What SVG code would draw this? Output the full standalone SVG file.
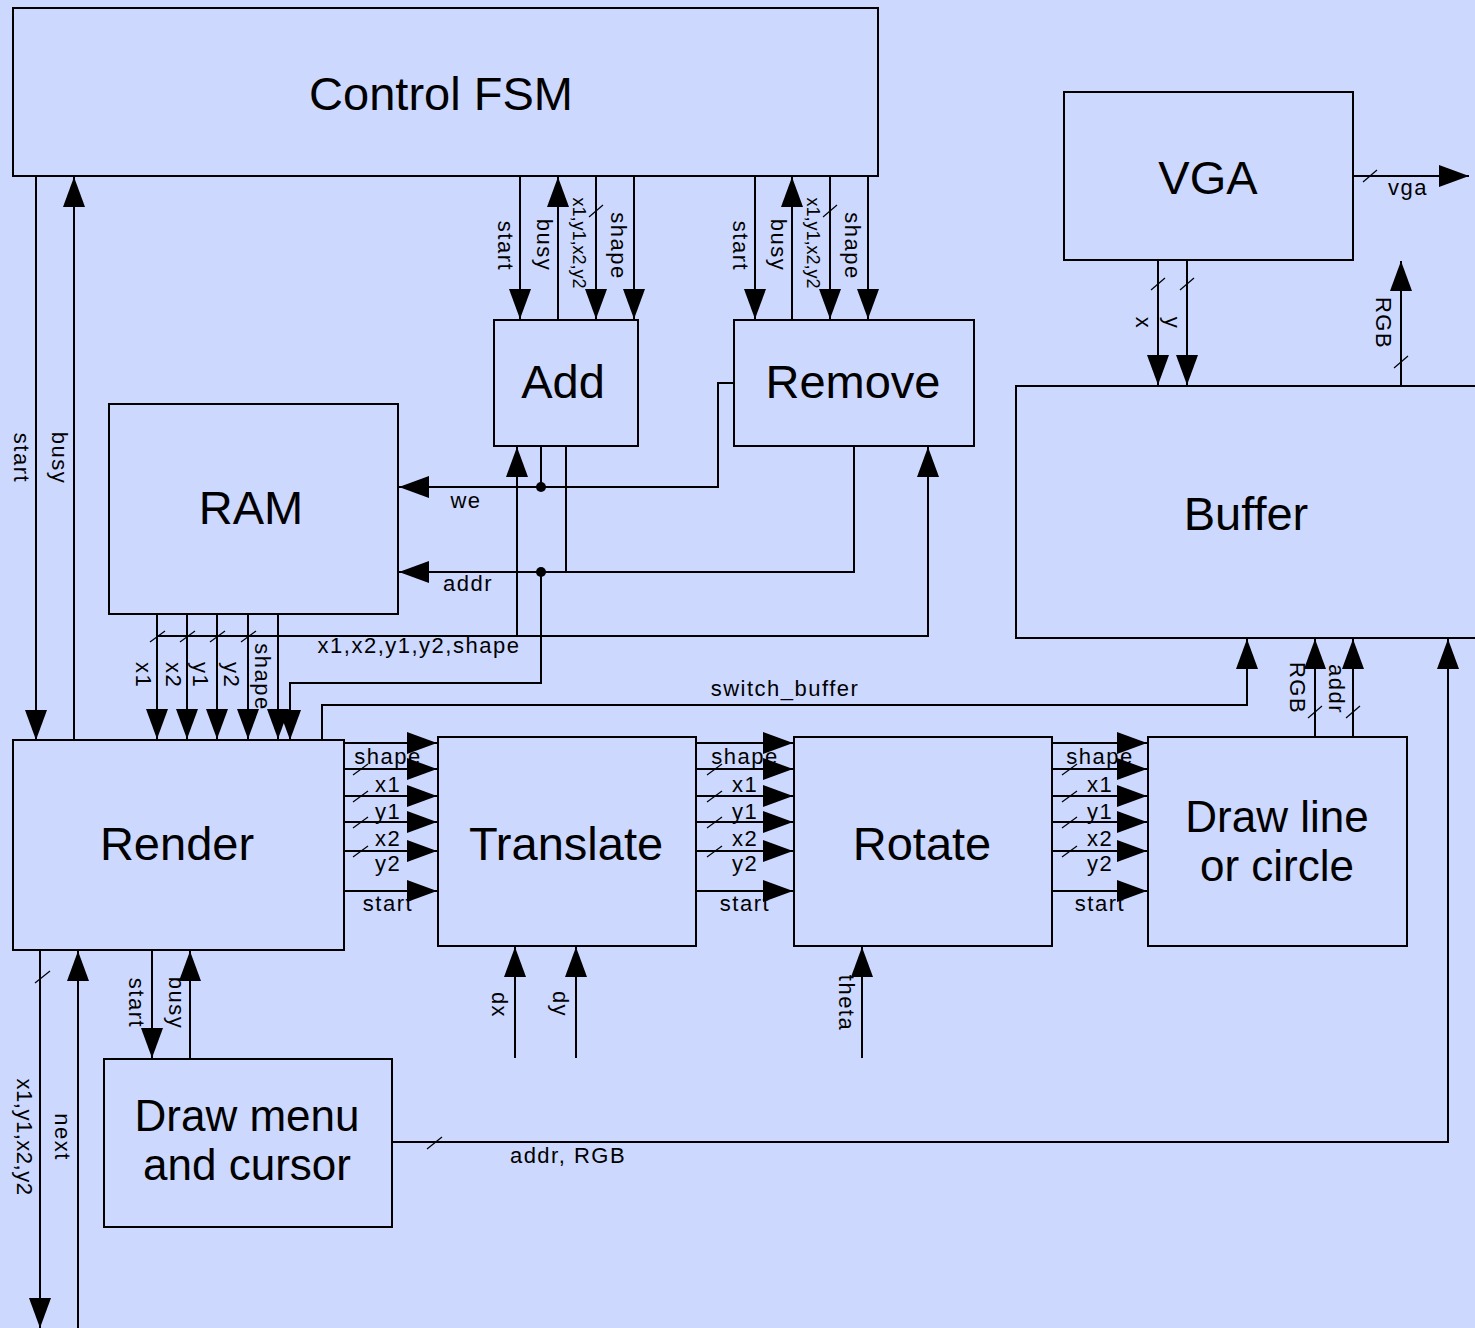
<svg xmlns="http://www.w3.org/2000/svg" width="1475" height="1328" viewBox="0 0 1475 1328">
<style>
.box{fill:#ccd8fe;stroke:#000;stroke-width:2}
.big{font-family:"Liberation Sans",Arial,sans-serif;font-size:47px;fill:#000;text-anchor:middle}
.big2{font-family:"Liberation Sans",Arial,sans-serif;font-size:44px;fill:#000;text-anchor:middle}
.lbl{font-family:"Liberation Sans",Arial,sans-serif;font-size:22px;letter-spacing:1.5px;fill:#000;text-anchor:middle}
.w{fill:none;stroke:#000;stroke-width:2}
.a{marker-end:url(#arr)}
.sl{stroke:#000;stroke-width:1.2}
</style>
<defs>
<marker id="arr" markerUnits="userSpaceOnUse" viewBox="0 0 30 22" markerWidth="30" markerHeight="22" refX="30" refY="11" orient="auto">
<path d="M0,0 L30,11 L0,22 z" fill="#000"/>
</marker>
</defs>
<rect x="0" y="0" width="1475" height="1328" fill="#ccd8fe"/>

<g id="connectors">
<path class="w a" d="M36,176 V740"/>
<path class="w a" d="M74,740 V177"/>
<path class="w a" d="M520,176 V319"/>
<path class="w a" d="M558,320 V177"/>
<path class="w a" d="M596,176 V319"/>
<path class="w a" d="M634,176 V319"/>
<path class="w a" d="M755,176 V319"/>
<path class="w a" d="M792,320 V177"/>
<path class="w a" d="M830,176 V319"/>
<path class="w a" d="M868,176 V319"/>
<path class="w a" d="M1158,260 V385"/>
<path class="w a" d="M1187,260 V385"/>
<path class="w a" d="M1401,386 V261"/>
<path class="w a" d="M1353,176 H1469"/>
<path class="w a" d="M734,383 H718 V487 H399"/>
<path class="w" d="M541,446 V487"/>
<path class="w a" d="M854,446 V572 H399"/>
<path class="w" d="M566,446 V572"/>
<path class="w a" d="M541,572 V683 H290 V740"/>
<circle cx="541" cy="487" r="5" fill="#000"/>
<circle cx="541" cy="572" r="5" fill="#000"/>
<path class="w a" d="M157,636 H928 V447"/>
<path class="w a" d="M517,636 V447"/>
<path class="w a" d="M157,614 V739"/>
<path class="w a" d="M187,614 V739"/>
<path class="w a" d="M217,614 V739"/>
<path class="w a" d="M248,614 V739"/>
<path class="w a" d="M278,614 V739"/>
<path class="w a" d="M322,740 V705 H1247 V639"/>
<path class="w a" d="M344,743 H437"/>
<path class="w a" d="M344,769 H437"/>
<path class="w a" d="M344,796 H437"/>
<path class="w a" d="M344,822 H437"/>
<path class="w a" d="M344,851 H437"/>
<path class="w a" d="M344,891 H437"/>
<path class="w a" d="M696,743 H793"/>
<path class="w a" d="M696,769 H793"/>
<path class="w a" d="M696,796 H793"/>
<path class="w a" d="M696,822 H793"/>
<path class="w a" d="M696,851 H793"/>
<path class="w a" d="M696,891 H793"/>
<path class="w a" d="M1052,743 H1147"/>
<path class="w a" d="M1052,769 H1147"/>
<path class="w a" d="M1052,796 H1147"/>
<path class="w a" d="M1052,822 H1147"/>
<path class="w a" d="M1052,851 H1147"/>
<path class="w a" d="M1052,891 H1147"/>
<path class="w a" d="M1315,737 V639"/>
<path class="w a" d="M1353,737 V639"/>
<path class="w a" d="M392,1142 H1448 V639"/>
<path class="w a" d="M40,950 V1328"/>
<path class="w a" d="M78,1328 V951"/>
<path class="w a" d="M152,950 V1058"/>
<path class="w a" d="M190,1059 V951"/>
<path class="w a" d="M515,1058 V947"/>
<path class="w a" d="M576,1058 V947"/>
<path class="w a" d="M862,1058 V947"/>

<g class="sl">
<line x1="589" y1="217" x2="603" y2="205"/>
<line x1="823" y1="217" x2="837" y2="205"/>
<line x1="150" y1="642" x2="165" y2="631"/>
<line x1="180" y1="642" x2="195" y2="631"/>
<line x1="210" y1="642" x2="225" y2="631"/>
<line x1="241" y1="642" x2="256" y2="631"/>
<line x1="1151" y1="290" x2="1165" y2="278"/>
<line x1="1180" y1="290" x2="1194" y2="278"/>
<line x1="1394" y1="368" x2="1408" y2="356"/>
<line x1="1363" y1="182" x2="1377" y2="170"/>
<line x1="1308" y1="718" x2="1322" y2="706"/>
<line x1="1346" y1="718" x2="1360" y2="706"/>
<line x1="427" y1="1149" x2="442" y2="1137"/>
<line x1="35" y1="983" x2="50" y2="971"/>
<line x1="353" y1="775" x2="368" y2="764"/>
<line x1="353" y1="802" x2="368" y2="791"/>
<line x1="353" y1="828" x2="368" y2="817"/>
<line x1="353" y1="857" x2="368" y2="846"/>
<line x1="707" y1="775" x2="722" y2="764"/>
<line x1="707" y1="802" x2="722" y2="791"/>
<line x1="707" y1="828" x2="722" y2="817"/>
<line x1="707" y1="857" x2="722" y2="846"/>
<line x1="1062" y1="775" x2="1077" y2="764"/>
<line x1="1062" y1="802" x2="1077" y2="791"/>
<line x1="1062" y1="828" x2="1077" y2="817"/>
<line x1="1062" y1="857" x2="1077" y2="846"/>
</g>

<g class="lbl">
<text transform="translate(14,458) rotate(90)">start</text>
<text transform="translate(52,458) rotate(90)">busy</text>
<text transform="translate(498,246) rotate(90)">start</text>
<text transform="translate(537,245) rotate(90)">busy</text>
<text transform="translate(573,243) rotate(90)" style="font-size:18px;letter-spacing:0">x1,y1,x2,y2</text>
<text transform="translate(611,246) rotate(90)">shape</text>
<text transform="translate(733,246) rotate(90)">start</text>
<text transform="translate(771,245) rotate(90)">busy</text>
<text transform="translate(807,243) rotate(90)" style="font-size:18px;letter-spacing:0">x1,y1,x2,y2</text>
<text transform="translate(845,246) rotate(90)">shape</text>
<text transform="translate(1136,323) rotate(90)">x</text>
<text transform="translate(1165,323) rotate(90)">y</text>
<text transform="translate(1376,323) rotate(90)">RGB</text>
<text x="1408" y="195">vga</text>
<text x="466" y="508">we</text>
<text x="468" y="591">addr</text>
<text x="419" y="653">x1,x2,y1,y2,shape</text>
<text transform="translate(136,675) rotate(90)">x1</text>
<text transform="translate(166,675) rotate(90)">x2</text>
<text transform="translate(193,675) rotate(90)">y1</text>
<text transform="translate(224,675) rotate(90)">y2</text>
<text transform="translate(255,677) rotate(90)">shape</text>
<text x="785" y="696">switch_buffer</text>
<text x="388" y="764">shape</text>
<text x="388" y="792">x1</text>
<text x="388" y="819">y1</text>
<text x="388" y="846">x2</text>
<text x="388" y="871">y2</text>
<text x="388" y="911">start</text>
<text x="745" y="764">shape</text>
<text x="745" y="792">x1</text>
<text x="745" y="819">y1</text>
<text x="745" y="846">x2</text>
<text x="745" y="871">y2</text>
<text x="745" y="911">start</text>
<text x="1100" y="764">shape</text>
<text x="1100" y="792">x1</text>
<text x="1100" y="819">y1</text>
<text x="1100" y="846">x2</text>
<text x="1100" y="871">y2</text>
<text x="1100" y="911">start</text>
<text transform="translate(1290,688) rotate(90)">RGB</text>
<text transform="translate(1329,689) rotate(90)">addr</text>
<text transform="translate(129,1003) rotate(90)">start</text>
<text transform="translate(169,1003) rotate(90)">busy</text>
<text transform="translate(17,1137) rotate(90)" style="letter-spacing:0.5px">x1,y1,x2,y2</text>
<text transform="translate(55,1137) rotate(90)">next</text>
<text transform="translate(492,1005) rotate(90)">dx</text>
<text transform="translate(553,1004) rotate(90)">dy</text>
<text transform="translate(839,1003) rotate(90)">theta</text>
<text x="568" y="1163">addr, RGB</text>
</g>
</g>

<g id="control_fsm"><rect class="box" x="13" y="8" width="865" height="168"/><text class="big" x="441" y="110">Control FSM</text></g>
<g id="vga"><rect class="box" x="1064" y="92" width="289" height="168"/><text class="big" x="1208" y="194">VGA</text></g>
<g id="add"><rect class="box" x="494" y="320" width="144" height="126"/><text class="big" x="563" y="398">Add</text></g>
<g id="remove"><rect class="box" x="734" y="320" width="240" height="126"/><text class="big" x="853" y="398">Remove</text></g>
<g id="ram"><rect class="box" x="109" y="404" width="289" height="210"/><text class="big" x="251" y="524">RAM</text></g>
<g id="buffer"><rect class="box" x="1016" y="386" width="470" height="252"/><text class="big" x="1246" y="530">Buffer</text></g>
<g id="render"><rect class="box" x="13" y="740" width="331" height="210"/><text class="big" x="177" y="860">Render</text></g>
<g id="translate"><rect class="box" x="438" y="737" width="258" height="209"/><text class="big" x="566" y="860">Translate</text></g>
<g id="rotate"><rect class="box" x="794" y="737" width="258" height="209"/><text class="big" x="922" y="860">Rotate</text></g>
<g id="draw_line"><rect class="box" x="1148" y="737" width="259" height="209"/><text class="big2" x="1277" y="832">Draw line</text><text class="big2" x="1277" y="881">or circle</text></g>
<g id="draw_menu"><rect class="box" x="104" y="1059" width="288" height="168"/><text class="big2" x="247" y="1131">Draw menu</text><text class="big2" x="247" y="1180">and cursor</text></g>
</svg>
